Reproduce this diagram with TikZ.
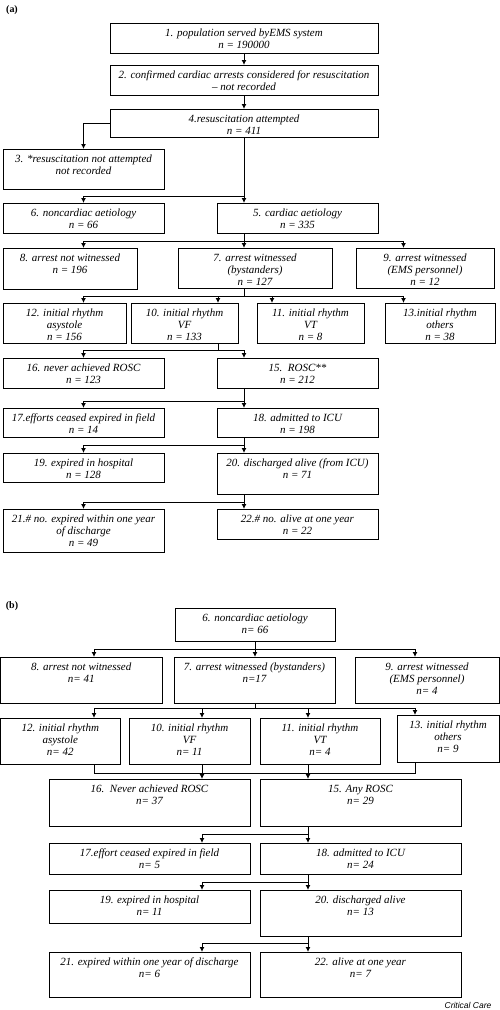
\documentclass[tikz,border=0pt]{standalone}
\usepackage{fontspec}
\setmainfont{Liberation Serif}
\setsansfont{Liberation Sans}
\usetikzlibrary{arrows,arrows.meta,shapes}
\tikzstyle{block} = [rectangle,draw,line width=1pt,align=center,anchor=north west,outer sep=0pt,
  inner xsep=2pt,inner ysep=0pt,font=\fontsize{11}{12}\selectfont\itshape]
\tikzstyle{twoline} = [text height=25pt]
\tikzstyle{threeline} = [text height=37pt]
\tikzstyle{line} = [draw,line width=1pt,-{Latex[length=5pt,width=5pt]}]
\tikzstyle{link} = [draw,line width=1pt]

\begin{document}
\begin{tikzpicture}[x=1pt,y=-1pt]
    \useasboundingbox (0,0) rectangle (500,1010);
    % (a) all cardiac arrests
    \node[font=\bfseries\fontsize{10}{12}\selectfont] (lbla) at (12,10) {(a)};
    \node[block,twoline,minimum width=268,text depth=5pt] (b1) at (110,23) {1. population served byEMS system \\ n = 190000};
    \node[block,twoline,minimum width=268,text depth=5pt] (b2) at (110,65) {2. confirmed cardiac arrests considered for resuscitation \\ -- not recorded};
    \node[block,twoline,minimum width=268,text depth=3pt] (b4) at (110,109) {4.resuscitation attempted \\ n = 411};
    \node[block,twoline,minimum width=161,text depth=15pt] (b3) at (3,149) {3. *resuscitation not attempted \\ not recorded};
    \node[block,twoline,minimum width=161,text depth=5pt] (b6) at (3,203) {6. noncardiac aetiology \\ n = 66};
    \node[block,twoline,minimum width=161,text depth=5pt] (b5) at (217,203) {5. cardiac aetiology \\ n = 335};
    \node[block,twoline,minimum width=134,text depth=16pt] (b8) at (3,248) {8. arrest not witnessed \\ n = 196};
    \node[block,threeline,minimum width=154,text depth=3pt] (b7) at (178,248) {7. arrest witnessed \\ (bystanders) \\ n = 127};
    \node[block,threeline,minimum width=138,text depth=3pt] (b9) at (356,248) {9. arrest witnessed \\ (EMS personnel) \\ n = 12};
    \node[block,threeline,minimum width=123,text depth=3pt] (b12) at (3,303) {12. initial rhythm \\ asystole \\ n = 156};
    \node[block,threeline,minimum width=107,text depth=3pt] (b10) at (131,303) {10. initial rhythm \\ VF \\ n = 133};
    \node[block,threeline,minimum width=107,text depth=3pt] (b11) at (257,303) {11. initial rhythm \\ VT \\ n = 8};
    \node[block,threeline,minimum width=110,text depth=3pt] (b13) at (385,303) {13.initial rhythm \\ others \\ n = 38};
    \node[block,twoline,minimum width=161,text depth=5pt] (b16) at (3,358) {16. never achieved ROSC \\ n = 123};
    \node[block,twoline,minimum width=161,text depth=5pt] (b15) at (217,358) {15.\ \ ROSC** \\ n = 212};
    \node[block,twoline,minimum width=161,text depth=4pt] (b17) at (3,408) {17.efforts ceased expired in field \\ n = 14};
    \node[block,twoline,minimum width=161,text depth=4pt] (b18) at (217,408) {18. admitted to ICU \\ n = 198};
    \node[block,twoline,minimum width=161,text depth=4pt] (b19) at (3,453) {19. expired in hospital \\ n = 128};
    \node[block,twoline,minimum width=161,text depth=16pt] (b20) at (217,453) {20. discharged alive (from ICU) \\ n = 71};
    \node[block,threeline,minimum width=161,text depth=6pt] (b21) at (3,509) {21.\# no. expired within one year \\ of discharge \\ n = 49};
    \node[block,twoline,minimum width=161,text depth=5pt] (b22) at (217,509) {22.\# no. alive at one year \\ n = 22};

    \coordinate (colL) at (83.5,0);
    \coordinate (colR) at (403.5,0);
    \coordinate (col10) at (218,0);
    \coordinate (col11) at (272,0);

    \path[line] (b1) -- (b2);
    \path[line] (b2) -- (b4);
    \path[line] (b4.west) -| (b3.north);
    \coordinate[yshift=7pt] (j4) at (b5.north -| b4.south);
    \path[line] (b4.south) -- (b5.north -| b4.south);
    \path[line] (j4) -| (b6.north);
    \coordinate[yshift=7pt] (j5) at (b7.north -| b4.south);
    \path[line] (b5.south -| b4.south) -- (b7.north -| b4.south);
    \path[line] (j5) -| (b8.north -| colL);
    \path[line] (j5) -| (b9.north -| colR);
    \coordinate[yshift=7pt] (j7) at (b12.north -| b4.south);
    \path[link] (b7.south -| b4.south) -- (j7);
    \path[line] (j7) -| (b12.north -| colL);
    \path[line] (j7) -| (b10.north -| col10);
    \path[line] (j7) -| (b11.north -| col11);
    \path[line] (j7) -| (b13.north -| colR);
    \coordinate[yshift=8pt] (j10) at (b15.north -| col10);
    \path[link] (b10.south -| col10) -- (j10);
    \path[line] (j10) -| (b16.north);
    \path[line] (j10) -| (b15.north -| b4.south);
    \coordinate[yshift=7pt] (j15) at (b18.north -| b4.south);
    \path[line] (b15.south -| b4.south) -- (b18.north -| b4.south);
    \path[line] (j15) -| (b17.north);
    \coordinate[yshift=8pt] (j18) at (b20.north -| b4.south);
    \path[line] (b18.south -| b4.south) -- (b20.north -| b4.south);
    \path[line] (j18) -| (b19.north);
    \coordinate[yshift=7pt] (j20) at (b22.north -| b4.south);
    \path[line] (b20.south -| b4.south) -- (b22.north -| b4.south);
    \path[line] (j20) -| (b21.north);

    % (b) noncardiac aetiology
    \node[font=\bfseries\fontsize{10}{12}\selectfont] (lblb) at (12,606) {(b)};
    \node[block,twoline,minimum width=160,text depth=8pt] (c6) at (175,608) {6. noncardiac aetiology \\ n= 66};
    \node[block,twoline,minimum width=161.5,text depth=21pt] (c8) at (0.5,657) {8. arrest not witnessed \\ n= 41};
    \node[block,twoline,minimum width=161,text depth=21pt] (c7) at (174,657) {7. arrest witnessed (bystanders) \\ n=17};
    \node[block,threeline,minimum width=144,text depth=9pt] (c9) at (355,657) {9. arrest witnessed \\ (EMS personnel) \\ n= 4};
    \node[block,threeline,minimum width=119.5,text depth=9pt] (c12) at (0.5,718) {12. initial rhythm \\ asystole \\ n= 42};
    \node[block,threeline,minimum width=121,text depth=9pt] (c10) at (129,718) {10. initial rhythm \\ VF \\ n= 11};
    \node[block,threeline,minimum width=120,text depth=9pt] (c11) at (260,718) {11. initial rhythm \\ VT \\ n= 4};
    \node[block,threeline,minimum width=102,text depth=10pt] (c13) at (397,715) {13. initial rhythm \\ others \\ n= 9};
    \node[block,twoline,minimum width=201,text depth=22pt] (c16) at (49,779) {16.\ \ Never achieved ROSC \\ n= 37};
    \node[block,twoline,minimum width=201,text depth=22pt] (c15) at (260,779) {15. Any ROSC \\ n= 29};
    \node[block,twoline,minimum width=201,text depth=6pt] (c17) at (49,843) {17.effort ceased expired in field \\ n= 5};
    \node[block,twoline,minimum width=201,text depth=6pt] (c18) at (260,843) {18. admitted to ICU \\ n= 24};
    \node[block,twoline,minimum width=201,text depth=8pt] (c19) at (49,890) {19. expired in hospital \\ n= 11};
    \node[block,twoline,minimum width=201,text depth=21pt] (c20) at (260,890) {20. discharged alive \\ n= 13};
    \node[block,twoline,minimum width=201,text depth=20pt] (c21) at (49,952) {21. expired within one year of discharge \\ n= 6};
    \node[block,twoline,minimum width=201,text depth=20pt] (c22) at (260,952) {22. alive at one year \\ n= 7};

    \coordinate (colA) at (94,0);
    \coordinate (colB) at (202,0);
    \coordinate (colD) at (308,0);
    \coordinate (colE) at (415,0);

    \coordinate[yshift=8pt] (k6) at (c7.north -| c6.south);
    \path[line] (c6.south) -- (c7.north -| c6.south);
    \path[line] (k6) -| (c8.north -| colA);
    \path[line] (k6) -| (c9.north -| colE);
    \coordinate[yshift=10pt] (k7) at (c10.north -| c6.south);
    \path[link] (c7.south -| c6.south) -- (k7);
    \path[line] (k7) -| (c12.north -| colA);
    \path[line] (k7) -| (c10.north -| colB);
    \path[line] (k7) -| (c11.north -| colD);
    \path[line] (k7) -| (c13.north -| colE);
    \coordinate[yshift=6pt] (m1) at (c16.north -| colA);
    \coordinate[yshift=6pt] (m2) at (c16.north -| colE);
    \path[link] (c12.south -| colA) -- (m1) -- (m2) -- (c13.south -| colE);
    \path[line] (c10.south -| colB) -- (c16.north -| colB);
    \path[line] (c11.south -| colD) -- (c15.north -| colD);
    \coordinate[yshift=9pt] (k15) at (c18.north -| colD);
    \path[line] (c15.south -| colD) -- (c18.north -| colD);
    \path[line] (k15) -| (c17.north -| colB);
    \coordinate[yshift=8pt] (k18) at (c20.north -| colD);
    \path[line] (c18.south -| colD) -- (c20.north -| colD);
    \path[line] (k18) -| (c19.north -| colB);
    \coordinate[yshift=9pt] (k20) at (c22.north -| colD);
    \path[line] (c20.south -| colD) -- (c22.north -| colD);
    \path[line] (k20) -| (c21.north -| colB);

    \node[font=\sffamily\itshape\fontsize{8.5}{10}\selectfont] (src) at (468,1005) {Critical Care};
\end{tikzpicture}
\end{document}
